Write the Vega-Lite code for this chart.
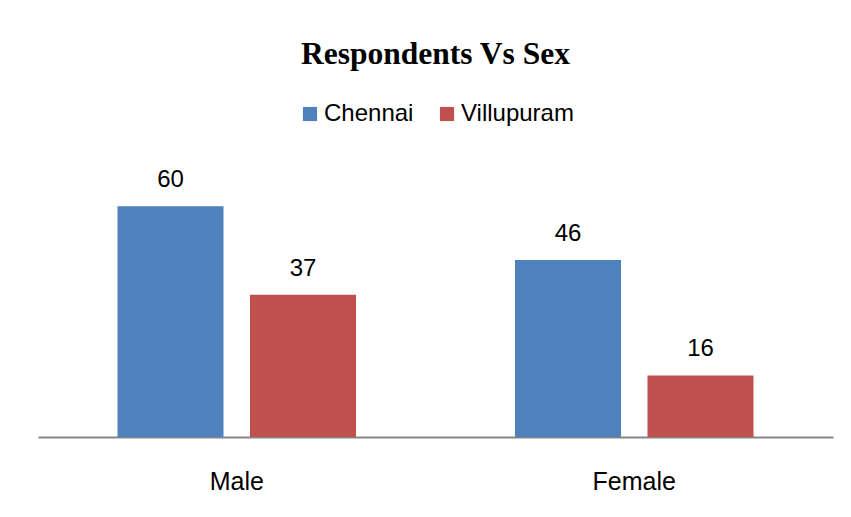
{
  "$schema": "https://vega.github.io/schema/vega-lite/v6.json",
  "autosize": "none",
  "width": 795,
  "height": 277,
  "padding": {"left": 38, "top": 160, "right": 18, "bottom": 80},
  "background": "white",
  "title": {
    "text": "Respondents Vs Sex",
    "font": "Liberation Serif",
    "fontSize": 31.5,
    "fontWeight": "bold",
    "color": "#000000",
    "anchor": "middle",
    "baseline": "alphabetic",
    "offset": 7
  },
  "data": {
    "values": [
      {"sex": "Male", "city": "Chennai", "count": 60},
      {"sex": "Male", "city": "Villupuram", "count": 37},
      {"sex": "Female", "city": "Chennai", "count": 46},
      {"sex": "Female", "city": "Villupuram", "count": 16}
    ]
  },
  "encoding": {
    "x": {
      "field": "sex",
      "type": "nominal",
      "sort": ["Male", "Female"],
      "scale": {"paddingInner": 0.4, "paddingOuter": 0.2},
      "axis": {
        "title": null,
        "domain": true,
        "domainColor": "#868686",
        "domainWidth": 2,
        "ticks": false,
        "tickSize": 0,
        "labelAngle": 0,
        "labelFont": "Liberation Sans",
        "labelFontSize": 25,
        "labelColor": "#000000",
        "labelBaseline": "alphabetic",
        "labelPadding": 52,
        "grid": false
      }
    },
    "xOffset": {
      "field": "city",
      "type": "nominal",
      "sort": ["Chennai", "Villupuram"],
      "scale": {"paddingInner": 0.2, "paddingOuter": 0}
    },
    "y": {
      "field": "count",
      "type": "quantitative",
      "scale": {"domain": [0, 72]},
      "axis": null
    }
  },
  "layer": [
    {
      "mark": {"type": "bar"},
      "encoding": {
        "color": {
          "field": "city",
          "type": "nominal",
          "sort": ["Chennai", "Villupuram"],
          "scale": {"domain": ["Chennai", "Villupuram"], "range": ["#4F81BD", "#C0504D"]},
          "legend": {
            "title": null,
            "orient": "none",
            "direction": "horizontal",
            "legendX": 260,
            "legendY": -58,
            "symbolType": "square",
            "symbolSize": 200,
            "symbolStrokeWidth": 0,
            "symbolOpacity": 1,
            "labelFont": "Liberation Sans",
            "labelFontSize": 24,
            "labelColor": "#000000",
            "labelOffset": 2,
            "columnPadding": 21,
            "padding": 0
          }
        }
      }
    },
    {
      "mark": {
        "type": "text",
        "baseline": "alphabetic",
        "dy": -19,
        "font": "Liberation Sans",
        "fontSize": 24,
        "color": "#000000"
      },
      "encoding": {
        "text": {"field": "count", "type": "quantitative"}
      }
    }
  ],
  "config": {
    "view": {"stroke": null},
    "axis": {"grid": false}
  }
}
